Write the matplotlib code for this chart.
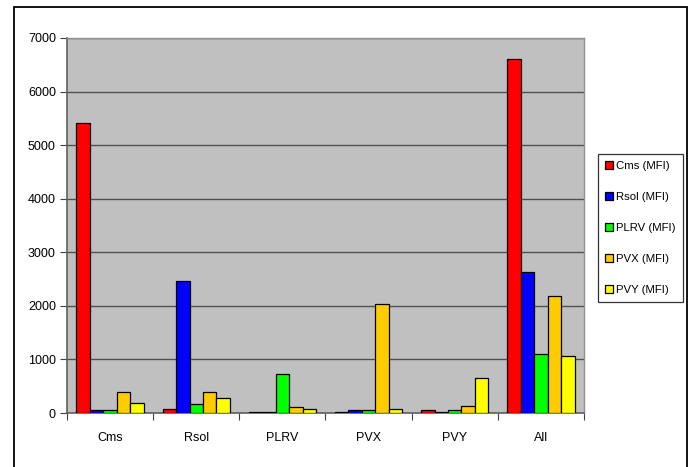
import matplotlib
matplotlib.use("Agg")
import matplotlib.pyplot as plt
from matplotlib.patches import Rectangle
import numpy as np

plt.rcParams['font.family'] = ['Liberation Sans', 'DejaVu Sans']

categories = ["Cms", "Rsol", "PLRV", "PVX", "PVY", "All"]
series_names = ["Cms (MFI)", "Rsol (MFI)", "PLRV (MFI)", "PVX (MFI)", "PVY (MFI)"]
cms_vals = [5410, 75, 20, 20, 50, 6600]
rsol_vals = [50, 2460, 20, 50, 20, 2630]
plrv_vals = [50, 170, 720, 50, 50, 1110]
pvx_vals = [400, 400, 115, 2030, 135, 2180]
pvy_vals = [190, 285, 75, 75, 655, 1060]
colors = ["#FF0000", "#0000FF", "#00FF00", "#FFCC00", "#FFFF00"]
yticks = [0, 1000, 2000, 3000, 4000, 5000, 6000, 7000]

W, H = 693, 467
fig = plt.figure(figsize=(W / 100, H / 100), dpi=100)

# outer chart border
fig.patches.append(Rectangle((14 / W, -0.02), (687 - 14) / W, 1 - 7 / H + 0.02,
                             transform=fig.transFigure, fill=False,
                             edgecolor="black", linewidth=1.3))

ax = fig.add_axes([67 / W, 1 - 413 / H, (584 - 67) / W, (413 - 38) / H])
ax.set_facecolor("#C0C0C0")

all_series = [cms_vals, rsol_vals, plrv_vals, pvx_vals, pvy_vals]
n = len(all_series)
bw = 0.156
x = np.arange(len(categories))
for i, (vals, c, name) in enumerate(zip(all_series, colors, series_names)):
    offs = (i - (n - 1) / 2) * bw
    ax.bar(x + offs, vals, width=bw, color=c, edgecolor="black",
           linewidth=0.9, label=name, zorder=3)

ax.set_xlim(-0.5, len(categories) - 0.5)
ax.set_ylim(0, 7000)
ax.set_yticks(yticks)
ax.set_yticklabels([str(v) for v in yticks], fontsize=9)
ax.yaxis.grid(True, color="#505050", linewidth=1.0, zorder=1)
ax.set_axisbelow(True)

ax.set_xticks(np.arange(len(categories) + 1) - 0.5)
ax.set_xticklabels([])
ax.set_xticks(x, minor=True)
ax.set_xticklabels(categories, minor=True, fontsize=9)
ax.tick_params(axis='x', which='minor', length=0, pad=14)
ax.tick_params(axis='x', which='major', direction='out', length=5, color="#404040")
ax.tick_params(axis='y', direction='out', length=5, color="#404040", pad=3)

for s in ["left", "bottom"]:
    ax.spines[s].set_color("#606060")
    ax.spines[s].set_linewidth(1.2)
for s in ["top", "right"]:
    ax.spines[s].set_color("#909090")
    ax.spines[s].set_linewidth(1.0)

leg = fig.legend(loc="upper left", bbox_to_anchor=(598 / W, 1 - 154 / H),
                 bbox_transform=fig.transFigure, fontsize=8.2, frameon=True,
                 fancybox=False, edgecolor="black", handlelength=0.7,
                 handleheight=0.7, handletextpad=0.3, labelspacing=1.85,
                 borderpad=0.6, borderaxespad=0)
leg.get_frame().set_linewidth(0.9)

fig.savefig("out.png", dpi=100)
